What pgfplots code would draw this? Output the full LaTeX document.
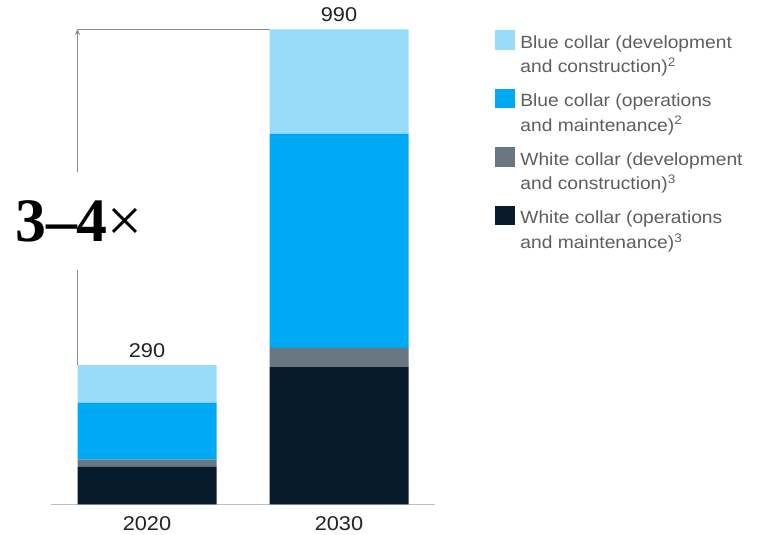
\documentclass[border=0pt]{standalone}
\usepackage{fontspec}
\setmainfont{Liberation Sans}[FakeStretch=1.09]
\newfontfamily\serifb{Liberation Serif}
\usepackage{pgfplots}
\pgfplotsset{compat=1.18}
\usetikzlibrary{arrows.meta}
\definecolor{cLight}{HTML}{99DCF9}
\definecolor{cBlue}{HTML}{00A9F4}
\definecolor{cGray}{HTML}{687782}
\definecolor{cNavy}{HTML}{061C2C}
\definecolor{cText}{HTML}{222222}
\definecolor{cLeg}{HTML}{5E5E5E}
\definecolor{cLine}{HTML}{8C8C8C}
\definecolor{cBase}{HTML}{BDBDBD}
\newcommand{\entry}[2]{\begin{tabular}[t]{@{}l@{}}#1\\#2\end{tabular}}
\begin{document}
\begin{tikzpicture}
\useasboundingbox (-51bp,-30.7bp) rectangle (708bp,504.3bp);
\begin{axis}[
  at={(0,0)}, anchor=south west,
  scale only axis, width=384bp, height=479.8bp,
  xmin=-0.5, xmax=1.5, ymin=0, ymax=1000,
  ybar stacked, bar width=139bp,
  clip=false,
  hide y axis,
  axis x line*=bottom,
  x axis line style={draw=cBase, line width=0.9bp, -},
  xtick={0,1}, xticklabels={2020,2030},
  major tick length=0pt,
  xticklabel style={anchor=base, yshift=-25.7bp, font=\fontsize{20}{24}\selectfont, text=cText, inner sep=0pt},
  /pgf/number format/assume math mode=true,
  reverse legend,
  legend cell align=left,
  legend style={at={(1.15625,0.9886)}, anchor=north west, draw=none, fill=none,
    inner sep=0pt, row sep=39.2bp, column sep=5.7bp,
    nodes={inner sep=0pt, text=cLeg,
      font=\fontsize{17.7}{24.7}\selectfont}},
  sq/.style={legend image code/.code={\fill[##1] (0bp,-9.4bp) rectangle (19.5bp,10bp);}},
]
\addplot[fill=cNavy, draw=none, sq] coordinates {(0,78) (1,286)};
\addlegendentry{\entry{White collar (operations}{and maintenance)\textsuperscript{3}}}
\addplot[fill=cGray, draw=none, sq] coordinates {(0,15) (1,40)};
\addlegendentry{\entry{White collar (development}{and construction)\textsuperscript{3}}}
\addplot[fill=cBlue, draw=none, sq] coordinates {(0,119) (1,446)};
\addlegendentry{\entry{Blue collar (operations}{and maintenance)\textsuperscript{2}}}
\addplot[fill=cLight, draw=none, sq] coordinates {(0,78) (1,218)};
\addlegendentry{\entry{Blue collar (development}{and construction)\textsuperscript{2}}}
\addplot[draw=none, fill=none, forget plot, point meta=explicit,
  nodes near coords={\pgfmathprintnumber{\pgfplotspointmeta}},
  nodes near coords style={anchor=base, yshift=7.4bp, inner sep=0pt, text=cText, font=\fontsize{20}{24}\selectfont}]
  coordinates {(0,0.01) [290] (1,0.01) [990]};
\draw[cLine, line width=0.9bp] ([xshift=-69.5bp]axis cs:0,290) -- ([xshift=-69.5bp]axis cs:0,488);
\draw[cLine, line width=0.9bp, -{Stealth[length=6bp,width=5bp]}] ([xshift=-69.5bp]axis cs:0,692) -- ([xshift=-69.5bp,yshift=0.4bp]axis cs:0,990);
\draw[cLine, line width=0.9bp] ([xshift=-69.5bp]axis cs:0,990) -- ([xshift=-69.5bp]axis cs:1,990);
\end{axis}
\node[anchor=base west, inner sep=0pt, text=black] at (-36bp,262.6bp)
  {\serifb\fontsize{62}{62}\selectfont\bfseries 3–4\mdseries ×};
\end{tikzpicture}
\end{document}
